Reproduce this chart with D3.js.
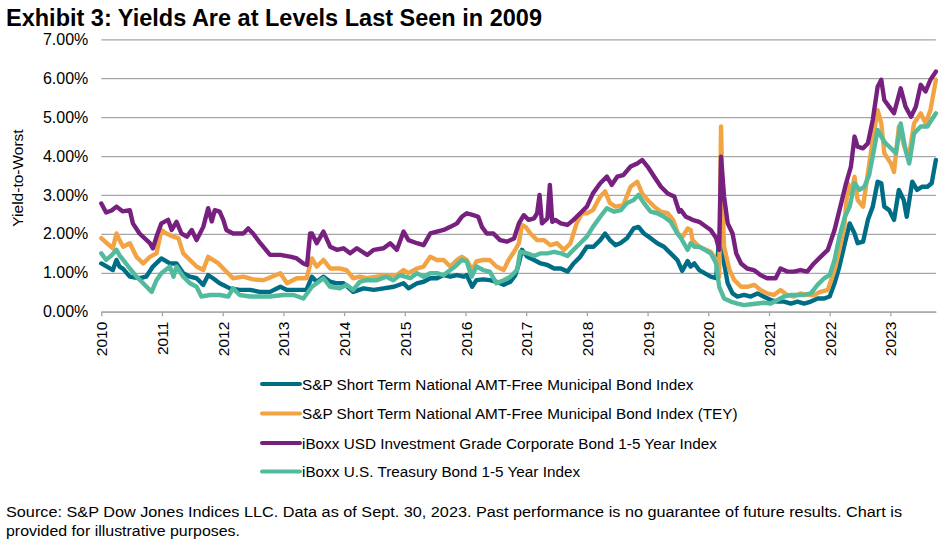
<!DOCTYPE html>
<html>
<head>
<meta charset="utf-8">
<script src="https://cdn.jsdelivr.net/npm/d3@7/dist/d3.min.js"></script>
<style>
  html, body { margin: 0; padding: 0; background: #fff; }
  svg { display: block; font-family: "Liberation Sans", Arial, sans-serif; }
</style>
</head>
<body>
<svg id="chart" width="948" height="550"></svg>
<script>
// ---- data (decimal years, yield in %) ----
const yearTicks = d3.range(2010, 2024);
const yieldTicks = [0, 1, 2, 3, 4, 5, 6, 7];

const seriesNames = [
  'S&P Short Term National AMT-Free Municipal Bond Index',
  'S&P Short Term National AMT-Free Municipal Bond Index (TEY)',
  'iBoxx USD Investment Grade Corporate Bond 1-5 Year Index',
  'iBoxx U.S. Treasury Bond 1-5 Year Index'
];
const seriesColors = ['#006d87', '#f2a444', '#782080', '#52bb9d'];

const muniX = [2010.00,2010.10,2010.19,2010.25,2010.30,2010.36,2010.47,2010.63,2010.74,2010.85,2010.99,2011.13,2011.24,2011.35,2011.46,2011.57,2011.68,2011.76,2011.84,2011.95,2012.12,2012.28,2012.45,2012.61,2012.78,2012.95,2013.06,2013.22,2013.38,2013.47,2013.55,2013.66,2013.77,2013.88,2013.99,2014.15,2014.32,2014.49,2014.65,2014.82,2014.98,2015.06,2015.20,2015.31,2015.42,2015.53,2015.64,2015.75,2015.86,2015.97,2016.02,2016.11,2016.18,2016.29,2016.40,2016.51,2016.63,2016.74,2016.82,2016.88,2016.93,2017.02,2017.13,2017.24,2017.35,2017.46,2017.57,2017.68,2017.78,2017.89,2018.00,2018.11,2018.22,2018.30,2018.38,2018.47,2018.55,2018.66,2018.77,2018.85,2018.94,2019.05,2019.16,2019.27,2019.38,2019.49,2019.57,2019.66,2019.71,2019.77,2019.85,2020.04,2020.13,2020.18,2020.21,2020.26,2020.32,2020.40,2020.48,2020.59,2020.70,2020.81,2020.91,2021.03,2021.14,2021.25,2021.36,2021.47,2021.58,2021.69,2021.80,2021.91,2022.00,2022.08,2022.16,2022.25,2022.33,2022.41,2022.46,2022.55,2022.63,2022.71,2022.79,2022.85,2022.90,2022.98,2023.06,2023.14,2023.22,2023.27,2023.36,2023.44,2023.52,2023.61,2023.68,2023.75];
const muniY = [1.24,1.15,1.07,1.33,1.16,1.10,0.90,0.86,0.90,1.16,1.37,1.24,1.24,0.99,0.90,0.86,0.69,0.94,0.86,0.73,0.60,0.56,0.56,0.51,0.51,0.64,0.56,0.56,0.56,0.90,0.77,0.90,0.77,0.73,0.73,0.51,0.60,0.56,0.60,0.64,0.73,0.60,0.73,0.77,0.86,0.86,0.94,0.90,0.94,0.90,0.94,0.64,0.81,0.83,0.81,0.77,0.69,0.77,0.94,1.24,1.59,1.41,1.33,1.24,1.20,1.11,1.11,1.03,1.24,1.41,1.67,1.67,1.84,2.01,1.84,1.71,1.76,1.89,2.14,2.18,2.01,1.89,1.76,1.67,1.50,1.33,1.05,1.30,1.16,1.24,1.07,0.90,0.86,1.93,2.01,1.24,0.73,0.47,0.39,0.43,0.39,0.47,0.39,0.30,0.26,0.26,0.21,0.26,0.21,0.26,0.34,0.34,0.39,0.73,1.16,1.76,2.27,2.01,1.76,1.80,2.36,2.70,3.34,3.30,2.70,2.61,2.36,3.13,2.87,2.44,3.34,3.13,3.21,3.21,3.30,3.90];

const teyX = [2010.00,2010.10,2010.19,2010.25,2010.30,2010.36,2010.47,2010.58,2010.69,2010.80,2010.91,2010.99,2011.07,2011.18,2011.27,2011.35,2011.46,2011.57,2011.68,2011.76,2011.84,2011.93,2012.01,2012.17,2012.34,2012.50,2012.67,2012.95,2013.06,2013.22,2013.38,2013.47,2013.55,2013.66,2013.77,2013.93,2014.04,2014.15,2014.26,2014.37,2014.54,2014.70,2014.87,2014.98,2015.06,2015.20,2015.31,2015.42,2015.53,2015.64,2015.75,2015.86,2015.94,2016.02,2016.11,2016.18,2016.29,2016.40,2016.51,2016.63,2016.71,2016.80,2016.88,2016.93,2016.99,2017.07,2017.18,2017.29,2017.40,2017.51,2017.62,2017.73,2017.83,2017.92,2018.00,2018.10,2018.22,2018.30,2018.38,2018.47,2018.60,2018.72,2018.83,2018.91,2019.00,2019.11,2019.22,2019.33,2019.42,2019.50,2019.58,2019.66,2019.71,2019.74,2019.85,2020.04,2020.13,2020.18,2020.21,2020.24,2020.26,2020.35,2020.43,2020.54,2020.64,2020.76,2020.86,2020.97,2021.08,2021.19,2021.30,2021.41,2021.52,2021.63,2021.74,2021.85,2021.97,2022.08,2022.16,2022.24,2022.30,2022.35,2022.41,2022.46,2022.55,2022.63,2022.71,2022.79,2022.85,2022.90,2023.01,2023.06,2023.14,2023.23,2023.31,2023.39,2023.50,2023.58,2023.66,2023.75];
const teyY = [1.89,1.75,1.63,2.01,1.84,1.67,1.76,1.41,1.24,1.41,1.50,2.10,2.01,1.93,1.89,1.50,1.33,1.16,1.07,1.41,1.33,1.24,1.11,0.86,0.90,0.83,0.81,0.99,0.73,0.86,0.86,1.37,1.16,1.33,1.11,1.11,1.07,0.86,0.90,0.86,0.90,0.94,0.94,1.07,0.99,1.11,1.16,1.41,1.33,1.33,1.16,1.33,1.41,1.33,1.07,1.29,1.33,1.33,1.16,1.07,1.33,1.54,1.76,2.23,2.18,2.01,1.84,1.84,1.71,1.76,1.59,1.76,2.27,2.53,2.53,2.61,2.96,3.09,2.79,2.70,2.74,3.21,3.34,3.04,2.87,2.70,2.57,2.53,2.36,2.01,1.93,2.14,2.10,1.84,1.67,1.54,1.33,0.90,4.76,2.53,1.67,1.07,0.81,0.64,0.64,0.69,0.56,0.47,0.43,0.56,0.43,0.39,0.47,0.43,0.43,0.51,0.56,1.07,1.59,2.18,3.30,3.04,3.47,2.87,2.70,3.56,4.41,5.18,4.84,4.07,3.81,3.59,4.76,4.24,4.03,4.84,5.10,4.84,5.18,5.96];

const corpX = [2010.00,2010.08,2010.17,2010.25,2010.35,2010.47,2010.52,2010.63,2010.80,2010.85,2010.91,2010.99,2011.10,2011.16,2011.24,2011.32,2011.41,2011.49,2011.57,2011.68,2011.76,2011.82,2011.87,2011.95,2012.01,2012.06,2012.17,2012.34,2012.42,2012.50,2012.62,2012.78,2012.95,2013.13,2013.22,2013.33,2013.39,2013.44,2013.47,2013.55,2013.66,2013.77,2013.88,2013.99,2014.10,2014.21,2014.38,2014.49,2014.65,2014.76,2014.87,2014.98,2015.06,2015.20,2015.31,2015.42,2015.53,2015.64,2015.75,2015.86,2015.94,2016.02,2016.13,2016.21,2016.27,2016.35,2016.46,2016.57,2016.68,2016.80,2016.88,2016.96,2017.04,2017.13,2017.18,2017.22,2017.26,2017.35,2017.39,2017.43,2017.48,2017.57,2017.68,2017.78,2017.89,2018.00,2018.10,2018.22,2018.33,2018.41,2018.50,2018.60,2018.72,2018.83,2018.91,2019.00,2019.11,2019.22,2019.33,2019.44,2019.52,2019.55,2019.63,2019.69,2019.74,2019.85,2020.04,2020.13,2020.18,2020.21,2020.26,2020.32,2020.40,2020.46,2020.54,2020.64,2020.75,2020.86,2020.97,2021.11,2021.19,2021.30,2021.41,2021.52,2021.63,2021.74,2021.85,2021.97,2022.08,2022.19,2022.27,2022.35,2022.41,2022.46,2022.55,2022.63,2022.71,2022.79,2022.85,2022.90,2022.98,2023.06,2023.17,2023.25,2023.34,2023.42,2023.50,2023.58,2023.66,2023.75];
const corpY = [2.78,2.55,2.60,2.70,2.58,2.61,2.27,2.01,1.76,1.63,1.93,2.27,2.36,2.10,2.31,2.01,1.93,2.10,1.84,2.18,2.66,2.32,2.61,2.57,2.36,2.10,2.01,2.01,2.14,2.01,1.76,1.46,1.46,1.41,1.37,1.24,1.20,2.01,2.01,1.76,2.06,1.67,1.59,1.63,1.50,1.63,1.46,1.59,1.63,1.76,1.59,2.06,1.84,1.76,1.71,2.01,2.06,2.10,2.18,2.27,2.44,2.53,2.48,2.44,2.18,2.01,2.01,1.84,1.80,1.88,2.27,2.48,2.36,2.40,2.53,3.00,2.27,2.40,3.26,2.31,2.36,2.27,2.23,2.36,2.53,2.70,3.04,3.30,3.47,3.26,3.47,3.51,3.73,3.81,3.90,3.73,3.47,3.21,3.04,2.96,2.57,2.61,2.44,2.40,2.36,2.31,2.10,1.89,1.59,3.98,2.96,2.27,2.01,1.50,1.24,1.11,1.07,0.94,0.86,0.86,1.11,1.03,1.03,1.07,1.03,1.24,1.41,1.59,2.10,2.79,3.30,3.73,4.50,4.24,4.20,4.33,4.93,5.78,5.96,5.44,5.27,5.10,5.74,5.27,5.01,5.27,5.83,5.66,5.96,6.17];

const tsyX = [2010.00,2010.08,2010.17,2010.25,2010.30,2010.36,2010.47,2010.58,2010.69,2010.83,2010.91,2010.99,2011.13,2011.19,2011.24,2011.35,2011.46,2011.57,2011.65,2011.79,2011.95,2012.09,2012.17,2012.28,2012.45,2012.61,2012.78,2013.00,2013.17,2013.33,2013.47,2013.55,2013.66,2013.77,2013.93,2014.04,2014.15,2014.26,2014.37,2014.54,2014.70,2014.81,2014.92,2015.00,2015.09,2015.20,2015.31,2015.42,2015.53,2015.64,2015.75,2015.83,2015.94,2016.02,2016.10,2016.18,2016.29,2016.40,2016.51,2016.63,2016.74,2016.85,2016.90,2017.02,2017.13,2017.24,2017.35,2017.46,2017.57,2017.68,2017.78,2017.89,2018.00,2018.10,2018.22,2018.33,2018.45,2018.56,2018.66,2018.77,2018.85,2018.94,2019.05,2019.16,2019.27,2019.38,2019.49,2019.55,2019.66,2019.71,2019.77,2019.85,2020.04,2020.13,2020.18,2020.26,2020.37,2020.48,2020.59,2020.70,2020.81,2020.91,2021.03,2021.14,2021.25,2021.36,2021.47,2021.58,2021.69,2021.80,2021.91,2022.00,2022.08,2022.16,2022.25,2022.33,2022.41,2022.49,2022.57,2022.65,2022.74,2022.79,2022.85,2022.92,2023.01,2023.09,2023.17,2023.25,2023.31,2023.39,2023.50,2023.61,2023.68,2023.75];
const tsyY = [1.50,1.33,1.45,1.59,1.45,1.33,1.11,0.90,0.73,0.51,0.81,0.99,1.16,0.90,1.16,0.90,0.73,0.64,0.39,0.43,0.43,0.39,0.60,0.43,0.39,0.39,0.39,0.43,0.43,0.34,0.64,0.73,0.86,0.64,0.60,0.69,0.56,0.77,0.81,0.81,0.90,0.81,0.94,0.90,0.86,0.99,0.90,0.99,0.99,0.94,1.07,1.16,1.33,1.29,0.90,1.16,1.07,1.03,0.73,0.81,0.90,1.07,1.54,1.50,1.43,1.50,1.50,1.54,1.50,1.43,1.59,1.76,1.93,2.18,2.44,2.66,2.57,2.61,2.79,2.87,3.00,2.79,2.57,2.53,2.44,2.31,2.01,1.89,1.59,1.76,1.67,1.67,1.50,1.24,0.64,0.34,0.26,0.21,0.17,0.19,0.21,0.23,0.21,0.30,0.39,0.43,0.43,0.43,0.47,0.69,0.86,0.94,1.33,1.93,2.44,2.70,3.30,3.13,3.21,3.51,4.24,4.67,4.50,4.33,4.20,4.07,4.84,4.15,3.81,4.58,4.76,4.76,4.93,5.10];

const seriesX = [muniX, teyX, corpX, tsyX];
const seriesY = [muniY, teyY, corpY, tsyY];

// ---- layout ----
const svg = d3.select('#chart');
const margin = { left: 101.3, right: 948 - 935.9, top: 39.3, bottom: 550 - 311.7 };

const x = d3.scaleLinear()
  .domain([2010, 2023.75])
  .range([margin.left, 948 - margin.right]);

const y = d3.scaleLinear()
  .domain([0, 7])
  .range([550 - margin.bottom, margin.top]);

// title
svg.append('text')
  .attr('x', 6)
  .attr('y', 26)
  .style('font-size', '23.5px')
  .style('font-weight', 'bold')
  .attr('fill', '#000')
  .text('Exhibit 3: Yields Are at Levels Last Seen in 2009');

// gridlines + y labels
const yAxis = svg.append('g')
  .attr('transform', `translate(${margin.left},0)`)
  .call(d3.axisLeft(y)
    .tickValues(yieldTicks)
    .tickSize(-(x.range()[1] - x.range()[0]))
    .tickPadding(13)
    .tickFormat(d => d3.format('.2f')(d) + '%'));
yAxis.select('.domain').remove();
yAxis.selectAll('line').attr('stroke', '#a6a6a6').attr('stroke-width', 1.3);
yAxis.selectAll('text')
  .style('font-size', '16px')
  .style('font-family', '"Liberation Sans", Arial, sans-serif')
  .attr('fill', '#000');

// y axis title
svg.append('text')
  .attr('transform', `translate(23,178) rotate(-90)`)
  .attr('text-anchor', 'middle')
  .style('font-size', '15.5px')
  .attr('fill', '#000')
  .text('Yield-to-Worst');

// x axis
const xAxis = svg.append('g')
  .attr('transform', `translate(0,${y(0)})`)
  .call(d3.axisBottom(x)
    .tickValues(yearTicks)
    .tickSize(4.5)
    .tickSizeOuter(0)
    .tickFormat(d3.format('d')));
xAxis.select('.domain').attr('stroke', '#a6a6a6').attr('stroke-width', 1.3);
xAxis.selectAll('line').attr('stroke', '#a6a6a6').attr('stroke-width', 1.3);
xAxis.selectAll('text')
  .style('font-size', '15.5px')
  .style('font-family', '"Liberation Sans", Arial, sans-serif')
  .attr('fill', '#000')
  .attr('text-anchor', 'end')
  .attr('transform', 'rotate(-90)')
  .attr('x', -10)
  .attr('y', 0)
  .attr('dy', '0.36em');

// lines
const line = d3.line()
  .x(d => x(d[0]))
  .y(d => y(d[1]));

seriesNames.forEach((name, i) => {
  const pts = seriesX[i].map((v, j) => [v, seriesY[i][j]]);
  svg.append('path')
    .datum(pts)
    .attr('fill', 'none')
    .attr('stroke', seriesColors[i])
    .attr('stroke-width', 4.4)
    .attr('stroke-linejoin', 'round')
    .attr('stroke-linecap', 'round')
    .attr('d', line);
});

// legend
const legendY = [384, 413.5, 443, 471.5];
const legend = svg.append('g');
seriesNames.forEach((name, i) => {
  legend.append('line')
    .attr('x1', 262).attr('x2', 300)
    .attr('y1', legendY[i]).attr('y2', legendY[i])
    .attr('stroke', seriesColors[i])
    .attr('stroke-width', 4)
    .attr('stroke-linecap', 'round');
  legend.append('text')
    .attr('x', 302)
    .attr('y', legendY[i])
    .attr('dy', '0.36em')
    .style('font-size', '15.3px')
    .attr('fill', '#000')
    .text(name);
});

// source note
const note = svg.append('g')
  .style('font-family', '"Liberation Sans Narrow", "Arial Narrow", "Liberation Sans", sans-serif')
  .style('font-size', '15.5px')
  .attr('fill', '#000');
note.append('text')
  .attr('x', 6).attr('y', 517)
  .attr('textLength', 896)
  .attr('lengthAdjust', 'spacingAndGlyphs')
  .text('Source: S&P Dow Jones Indices LLC. Data as of Sept. 30, 2023. Past performance is no guarantee of future results. Chart is');
note.append('text')
  .attr('x', 6).attr('y', 536)
  .attr('textLength', 234)
  .attr('lengthAdjust', 'spacingAndGlyphs')
  .text('provided for illustrative purposes.');
</script>
</body>
</html>
